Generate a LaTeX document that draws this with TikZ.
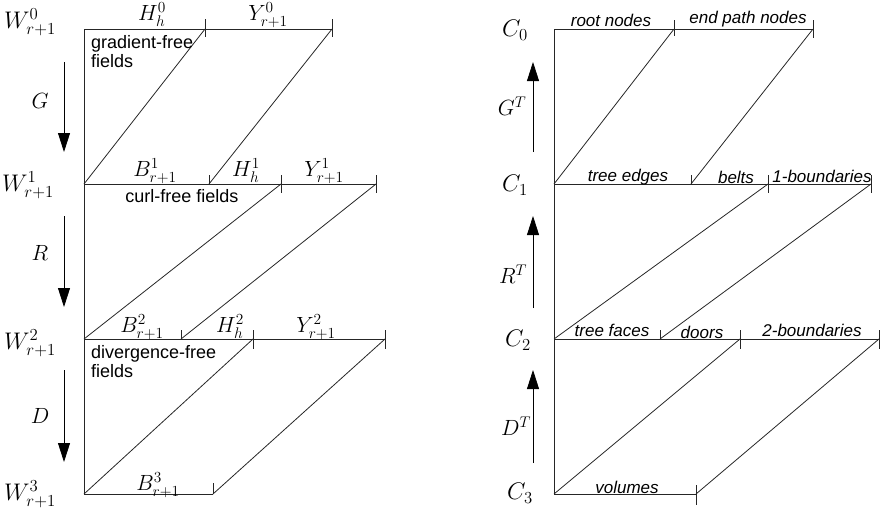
\RequirePackage{fix-cm}
\documentclass[tikz,border=0pt]{standalone}
\usepackage{amsmath}
\usepackage{fontspec}
\newfontfamily\lsans{Liberation Sans}
\usetikzlibrary{arrows.meta, positioning, calc}

\begin{document}
\begin{tikzpicture}[x=1pt, y=-1pt,
        edge/.style={line width=0.8pt, black!85},
        flow/.style={-{Triangle[length=19pt, width=12pt]}, line width=0.8pt},
        space/.style={font=\fontsize{24}{28}\selectfont, inner sep=0pt},
        sym/.style={font=\fontsize{22}{26}\selectfont, inner sep=0pt},
        field/.style={font=\lsans\fontsize{18}{19.5}\selectfont, inner sep=0pt, align=left},
        part/.style={font=\lsans\itshape\fontsize{17}{19}\selectfont, inner sep=0pt}
    ]
        \useasboundingbox (0,0) rectangle (880,509);

        % === Field spaces W ===
        \coordinate (w0) at (84,29);
        \coordinate (w1) at (84,184);
        \coordinate (w2) at (84,339);
        \coordinate (w3) at (84,494);

        \coordinate (h0) at (205,29);
        \coordinate (y0) at (332,29);
        \coordinate (b1) at (209,184);
        \coordinate (h1) at (281,184);
        \coordinate (y1) at (376,184);
        \coordinate (b2) at (181,339);
        \coordinate (h2) at (253,339);
        \coordinate (y2) at (385,339);
        \coordinate (b3) at (213,494);

        \draw[edge] (w0) -- (w3);
        \draw[edge] (w0) -- (y0);
        \draw[edge] (w1) -- (y1);
        \draw[edge] (w2) -- (y2);
        \draw[edge] (w3) -- (b3);

        % Diagonals
        \draw[edge] (w1) -- (h0);
        \draw[edge] (b1) -- (y0);
        \draw[edge] (w2) -- (h1);
        \draw[edge] (b2) -- (y1);
        \draw[edge] (w3) -- (h2);
        \draw[edge] (b3) -- (y2);

        % Ticks
        \draw[edge] ([yshift=10pt]h0) -- ([yshift=-8pt]h0);
        \draw[edge] ([yshift=10pt]y0) -- ([yshift=-8pt]y0);
        \draw[edge] ([yshift=9pt]b1) -- (b1);
        \draw[edge] ([yshift=9pt]h1) -- ([yshift=-9pt]h1);
        \draw[edge] ([yshift=9pt]y1) -- ([yshift=-9pt]y1);
        \draw[edge] ([yshift=9pt]b2) -- (b2);
        \draw[edge] ([yshift=9pt]h2) -- ([yshift=-10pt]h2);
        \draw[edge] ([yshift=9pt]y2) -- ([yshift=-10pt]y2);
        \draw[edge] ([yshift=11pt]b3) -- (b3);

        \node[space] (lw0) at (30,22) {$W^{0}_{r+1}$};
        \node[space] (lw1) at (28,185) {$W^{1}_{r+1}$};
        \node[space] (lw2) at (30,343) {$W^{2}_{r+1}$};
        \node[space] (lw3) at (30,494) {$W^{3}_{r+1}$};

        \node[sym] (lh0) at (152,15) {$H^{0}_{h}$};
        \node[sym] (ly0) at (268,15) {$Y^{0}_{r+1}$};
        \node[sym] (lb1) at (155,171) {$B^{1}_{r+1}$};
        \node[sym] (lh1) at (246,171) {$H^{1}_{h}$};
        \node[sym] (ly1) at (324,171) {$Y^{1}_{r+1}$};
        \node[sym] (lb2) at (142,327) {$B^{2}_{r+1}$};
        \node[sym] (lh2) at (230,327) {$H^{2}_{h}$};
        \node[sym] (ly2) at (316,327) {$Y^{2}_{r+1}$};
        \node[sym] (lb3) at (158,485) {$B^{3}_{r+1}$};

        \node[field, anchor=north west] (gf) at (91,35) {gradient-free\\fields};
        \node[field] (cf) at (182,196) {curl-free fields};
        \node[field, anchor=north west] (df) at (91,345) {divergence-free\\fields};

        % Operators
        \coordinate (ga) at (64,62);
        \coordinate (gb) at (64,152);
        \coordinate (ra) at (64,216);
        \coordinate (rb) at (64,307);
        \coordinate (da) at (64,370);
        \coordinate (db) at (64,462);
        \draw[flow] (ga) -- (gb);
        \draw[flow] (ra) -- (rb);
        \draw[flow] (da) -- (db);
        \node[sym] (lg) at (40,101) {$G$};
        \node[sym] (lr) at (40,253) {$R$};
        \node[sym] (ld) at (40,416) {$D$};

        % === Cell spaces C ===
        \coordinate (c0) at (554,29);
        \coordinate (c1) at (554,184);
        \coordinate (c2) at (554,339);
        \coordinate (c3) at (554,494);

        \coordinate (rn) at (674,29);
        \coordinate (ep) at (813,29);
        \coordinate (te) at (691,184);
        \coordinate (bl) at (768,184);
        \coordinate (ob) at (871,184);
        \coordinate (tf) at (660,339);
        \coordinate (dr) at (740,339);
        \coordinate (tb) at (879,339);
        \coordinate (vo) at (696,494);

        \draw[edge] (c0) -- (c3);
        \draw[edge] (c0) -- (ep);
        \draw[edge] (c1) -- (ob);
        \draw[edge] (c2) -- (tb);
        \draw[edge] (c3) -- (vo);

        % Diagonals
        \draw[edge] (c1) -- (rn);
        \draw[edge] (te) -- (ep);
        \draw[edge] (c2) -- (bl);
        \draw[edge] (tf) -- (ob);
        \draw[edge] (c3) -- (dr);
        \draw[edge] (vo) -- (tb);

        % Ticks
        \draw[edge] ([yshift=9pt]rn) -- ([yshift=-7pt]rn);
        \draw[edge] ([yshift=9pt]ep) -- ([yshift=-9pt]ep);
        \draw[edge] ([yshift=9pt]te) -- (te);
        \draw[edge] ([yshift=9pt]bl) -- ([yshift=-9pt]bl);
        \draw[edge] ([yshift=9pt]ob) -- ([yshift=-9pt]ob);
        \draw[edge] ([yshift=9pt]tf) -- (tf);
        \draw[edge] ([yshift=9pt]dr) -- ([yshift=-10pt]dr);
        \draw[edge] ([yshift=9pt]tb) -- ([yshift=-10pt]tb);
        \draw[edge] ([yshift=9pt]vo) -- ([yshift=-11pt]vo);

        \node[space] (lc0) at (515,30) {$C_{0}$};
        \node[space] (lc1) at (515,185) {$C_{1}$};
        \node[space] (lc2) at (518,340) {$C_{2}$};
        \node[space] (lc3) at (520,493) {$C_{3}$};

        \node[part] (prn) at (611,20) {root nodes};
        \node[part] (pep) at (748,19) {end path nodes};
        \node[part] (pte) at (628,177) {tree edges};
        \node[part] (pbl) at (736,177) {belts};
        \node[part] (pob) at (822,176) {1-boundaries};
        \node[part] (ptf) at (612,330) {tree faces};
        \node[part] (pdr) at (702,332) {doors};
        \node[part] (ptb) at (812,330) {2-boundaries};
        \node[part] (pvo) at (627,487) {volumes};

        % Transposed operators
        \coordinate (gta) at (533,152);
        \coordinate (gtb) at (533,62);
        \coordinate (rta) at (533,308);
        \coordinate (rtb) at (533,216);
        \coordinate (dta) at (533,463);
        \coordinate (dtb) at (533,370);
        \draw[flow] (gta) -- (gtb);
        \draw[flow] (rta) -- (rtb);
        \draw[flow] (dta) -- (dtb);
        \node[sym] (lgt) at (512,106) {$G^{T}$};
        \node[sym] (lrt) at (513,274) {$R^{T}$};
        \node[sym] (ldt) at (516,426) {$D^{T}$};

    \end{tikzpicture}
\end{document}
